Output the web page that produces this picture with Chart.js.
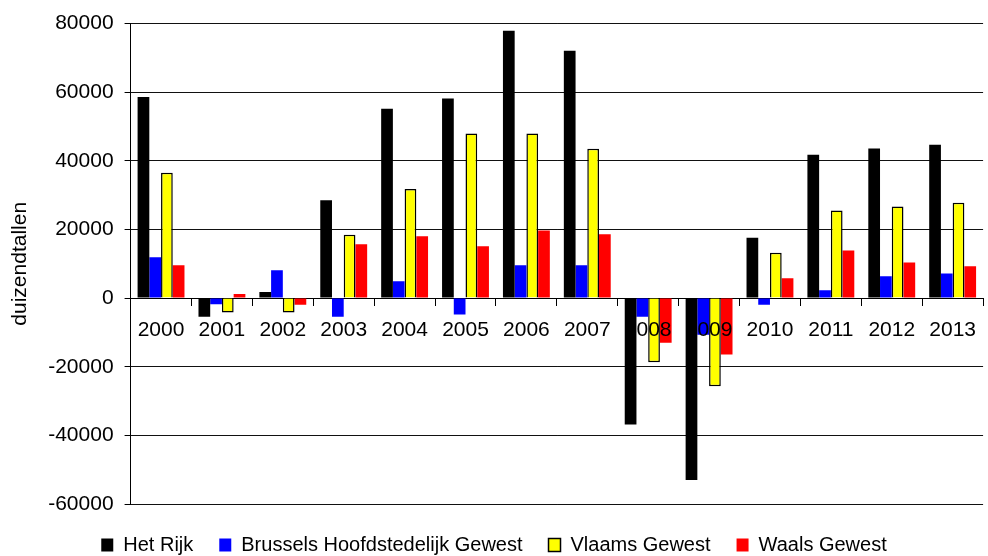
<!DOCTYPE html>
<html>
<head>
<meta charset="utf-8">
<script src="https://cdn.jsdelivr.net/npm/chart.js@4/dist/chart.umd.min.js"></script>
<style>
  body { margin: 0; background: #fff; }
  #wrap { width: 988px; height: 556px; }
</style>
</head>
<body>
<div id="wrap"><canvas id="chart" width="988" height="556"></canvas></div>
<script>
const years = ['2000', '2001', '2002', '2003', '2004', '2005', '2006', '2007', '2008', '2009', '2010', '2011', '2012', '2013'];
const hetRijk = [58600, -5400, 1800, 28500, 55200, 58200, 77900, 72100, -36800, -53000, 17600, 41800, 43600, 44700];
const brussel = [11900, -1800, 8100, -5400, 4900, -4800, 9600, 9600, -5400, -10700, -1900, 2300, 6400, 7200];
const vlaams = [36500, -4200, -4200, 18500, 31800, 48000, 48000, 43500, -18700, -25700, 13200, 25500, 26700, 27800];
const waals = [9600, 1200, -1900, 15700, 18000, 15100, 19700, 18600, -13000, -16400, 5800, 13900, 10400, 9300];

const font = 'Liberation Sans, Arial, sans-serif';
Chart.defaults.font.family = font;
Chart.defaults.color = '#000';

const ctx = document.getElementById('chart').getContext('2d');

// nudge the legend a few pixels down, closer to the bottom edge
const legendShift = {
  id: 'legendShift',
  afterLayout(chart) {
    if (chart.legend) {
      chart.legend.top += 5;
      chart.legend.bottom += 5;
    }
  }
};

new Chart(ctx, {
  type: 'bar',
  data: {
    labels: years,
    datasets: [
      { label: 'Het Rijk', data: hetRijk, backgroundColor: '#000000', borderWidth: 0 },
      { label: 'Brussels Hoofdstedelijk Gewest', data: brussel, backgroundColor: '#0000ff', borderWidth: 0 },
      { label: 'Vlaams Gewest', data: vlaams, backgroundColor: '#ffff00', borderColor: '#000000', borderWidth: 1.5 },
      { label: 'Waals Gewest', data: waals, backgroundColor: '#ff0000', borderWidth: 0 }
    ]
  },
  options: {
    responsive: false,
    animation: false,
    categoryPercentage: 0.77,
    barPercentage: 1.0,
    layout: { padding: { top: 22, right: 0, bottom: -4, left: 0 } },
    scales: {
      x: {
        position: { y: 0 },
        grid: { display: true, drawOnChartArea: false, offset: true, tickLength: 7, color: '#000', lineWidth: 1 },
        border: { display: true, color: '#000', width: 1 },
        // year labels sit on top of the bars, as in the original
        ticks: { z: 1, font: { size: 21 }, padding: 12, autoSkip: false, maxRotation: 0, color: '#000' }
      },
      y: {
        min: -60000,
        max: 80000,
        ticks: {
          stepSize: 20000,
          font: { size: 21 },
          padding: 11,
          color: '#000',
          callback: v => String(v)
        },
        grid: { color: '#111', lineWidth: 1, tickLength: 6, tickColor: '#000' },
        border: { display: true, color: '#000', width: 1 },
        title: { display: true, text: 'duizendtallen', font: { size: 21 }, padding: { top: 8, bottom: 4 }, color: '#000' }
      }
    },
    plugins: {
      legend: {
        position: 'bottom',
        labels: { boxWidth: 12, boxHeight: 13, padding: 26, font: { size: 20 }, color: '#000' }
      },
      tooltip: { enabled: false }
    }
  },
  plugins: [legendShift]
});
</script>
</body>
</html>
